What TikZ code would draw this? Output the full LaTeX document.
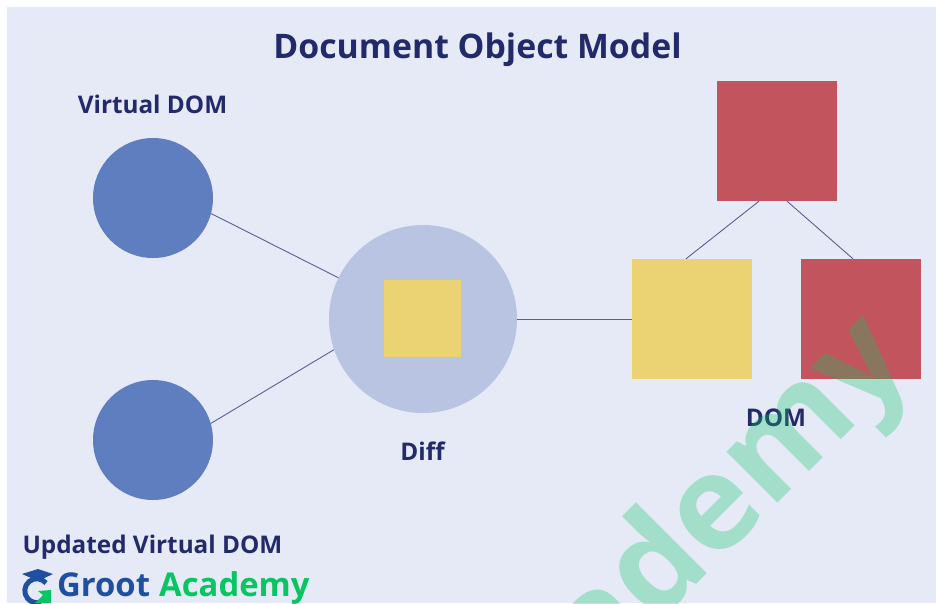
\documentclass[tikz,border=0pt]{standalone}
\usepackage{fontspec}
\setmainfont{Open Sans}
\usepackage{tikz}
\usetikzlibrary{positioning}
\definecolor{panelbg}{HTML}{E6EAF6}
\definecolor{inkblue}{HTML}{232A6A}
\definecolor{linkblue}{HTML}{5A6090}
\definecolor{circblue}{HTML}{5F7EBF}
\definecolor{diffblue}{HTML}{B9C4E2}
\definecolor{boxyellow}{HTML}{EBD272}
\definecolor{boxred}{HTML}{C2545D}
\definecolor{logoblue}{HTML}{1F4FA0}
\definecolor{logogreen}{HTML}{07C561}
\tikzset{
    vdom/.style={circle, fill=circblue, minimum size=120pt, inner sep=0pt},
    dombox/.style={rectangle, minimum size=120pt, inner sep=0pt},
    label/.style={text=inkblue, font=\fontsize{24.3}{29}\selectfont\bfseries, inner sep=0pt, anchor=base},
    link/.style={draw=linkblue, line width=0.9pt},
    logotext/.style={inner sep=0pt, anchor=base west, font=\fontsize{32.8}{39}\selectfont\bfseries}
}
\begin{document}
\begin{tikzpicture}[x=1pt,y=-1pt]
    \useasboundingbox (0,0) rectangle (936,603);
    \clip (0,0) rectangle (936,603);
    \fill[panelbg] (7,7) rectangle (936,603);
    \node[text=inkblue, font=\fontsize{33.8}{40}\selectfont\bfseries, inner sep=0pt, anchor=base] (title) at (477.5,58) {Document Object Model};
    \node[vdom] (virtual) at (153,198) {};
    \node[vdom] (updated) at (153,440) {};
    \node[circle, fill=diffblue, minimum size=188pt, inner sep=0pt] (diff) at (423,319) {};
    \node[rectangle, fill=boxyellow, minimum size=77pt, inner sep=0pt] (change) at (422.5,318.5) {};
    \node[dombox, fill=boxred] (root) at (777,141) {};
    \node[dombox, fill=boxyellow] (left) at (692,319) {};
    \node[dombox, fill=boxred] (right) at (861,319) {};
    \draw[link] (virtual.-15) -- (diff.154);
    \draw[link] (updated.16) -- (diff.199);
    \draw[link] (diff.east) -- (left.west);
    \draw[link] ([xshift=-18pt]root.south) -- ([xshift=-6pt]left.north);
    \draw[link] ([xshift=10pt]root.south) -- ([xshift=-8pt]right.north);
    \node[label] (vlabel) at (152.5,113) {Virtual DOM};
    \node[label] (ulabel) at (152.5,553) {Updated Virtual DOM};
    \node[label] (dlabel) at (422.5,460) {Diff};
    \node[label] (mlabel) at (776,426) {DOM};
    \node[text=logogreen, text opacity=0.3, font=\fontsize{132}{158}\selectfont\bfseries, rotate=45, anchor=base east, inner sep=0pt] (mark) at (915,366) {Academy};
    % logo
    \draw[logoblue, line width=5pt] (46,583) arc[start angle=-40, end angle=-290, radius=12];
    \fill[logoblue] (22,574) -- (38,569) -- (53,574) -- (38,581) -- cycle;
    \fill[logogreen] (35,603) -- (43,595) -- (38,591) -- (51,590) -- (51,603) -- cycle;
    \node[logotext, text=logoblue] (groot) at (57,596) {Groot};
    \node[logotext, text=logogreen] (academy) at (159,596) {Academy};
\end{tikzpicture}
\end{document}
